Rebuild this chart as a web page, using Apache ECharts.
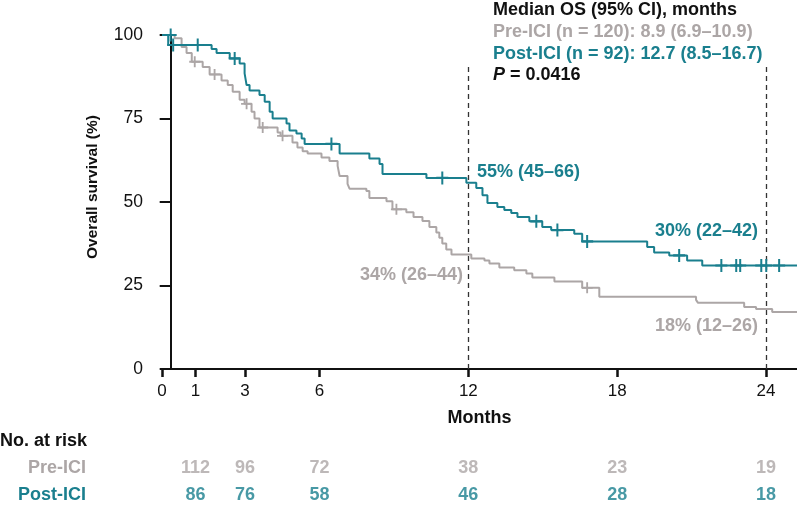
<!DOCTYPE html>
<html>
<head>
<meta charset="utf-8">
<title>Overall survival: Pre-ICI vs Post-ICI</title>
<script src="https://cdn.jsdelivr.net/npm/echarts@6.0.0/dist/echarts.min.js"></script>
<style>
  html, body { margin: 0; padding: 0; background: #fff; }
  #main { width: 797px; height: 509px; }
</style>
</head>
<body>
<div id="main"></div>
<script>
// axis range (months); the plotted origin sits a little left of 0
var X_MIN = -0.35;
var X_MAX = 25.25;
var X_TICKS = [X_MIN, 1, 3, 6, 12, 18, 24];
var X_TICK_LABELS = ['0', '1', '3', '6', '12', '18', '24'];
var Y_TICKS = [0, 25, 50, 75, 100];
var LANDMARKS = [12, 24];

// Post-ICI Kaplan-Meier steps (time, survival % after the step)
var POST_T = [X_MIN, -0.1, 1.65, 1.85, 2.38, 2.78, 2.98, 3.06, 3.18, 3.58, 3.79, 3.99, 4.11, 4.67, 4.79,
  5.07, 5.28, 5.40, 6.81, 8.01, 8.42, 8.54, 10.31, 11.92, 12.32, 12.57, 12.77, 13.17, 13.45, 13.73,
  13.98, 14.46, 14.98, 15.34, 16.27, 16.59, 19.21, 19.49, 20.10, 20.82, 21.43, X_MAX];
var POST_S = [100, 97.0, 95.8, 94.6, 93.0, 91.5, 88.5, 85.0, 83.4, 82.0, 80.0, 77.0, 75.0, 73.5, 71.4,
  70.5, 69.0, 67.4, 64.5, 63.0, 61.4, 58.4, 57.2, 55.8, 54.2, 52.0, 49.7, 48.5, 47.6, 46.7,
  45.5, 44.2, 42.5, 41.6, 40.5, 38.2, 36.5, 34.9, 34.0, 32.5, 31.0, 31.0];
var POST_CENS_T = [0.0, 0.1, 1.09, 2.58, 6.48, 10.95, 14.74, 15.59, 16.79, 20.5, 22.2, 22.8, 22.96, 23.81, 24.01, 24.53];
var POST_CENS_S = [100, 97.0, 97.0, 93.0, 67.4, 57.2, 44.2, 41.6, 38.2, 34.0, 31.0, 31.0, 31.0, 31.0, 31.0, 31.0];

// Pre-ICI Kaplan-Meier steps
var PRE_T = [X_MIN, 0.16, 0.44, 0.64, 0.85, 1.29, 1.57, 2.05, 2.30, 2.50, 2.78, 2.98, 3.26, 3.38, 3.58,
  4.31, 4.43, 4.91, 5.11, 5.32, 5.52, 6.08, 6.40, 6.73, 6.81, 7.13, 7.21, 7.89, 8.01, 8.70,
  8.94, 9.50, 9.79, 10.15, 10.43, 10.71, 10.83, 10.95, 11.11, 11.32, 12.12, 12.65, 12.85, 13.25,
  13.85, 14.34, 14.58, 15.47, 16.59, 17.28, 21.18, 21.26, 23.12, 23.60, 24.25, X_MAX];
var PRE_S = [100, 99.0, 96.4, 94.6, 92.0, 90.4, 88.2, 86.4, 85.0, 83.0, 80.6, 79.4, 77.0, 75.0, 72.3,
  70.8, 69.8, 67.8, 66.3, 65.2, 64.5, 63.3, 62.3, 60.8, 57.8, 55.4, 54.0, 53.3, 51.2, 50.2,
  47.8, 46.9, 45.5, 44.3, 42.5, 40.9, 39.3, 37.6, 35.8, 34.3, 33.1, 32.5, 31.6, 30.4,
  29.6, 28.6, 27.4, 26.2, 24.3, 21.6, 20.7, 19.8, 18.6, 18.0, 17.1, 17.1];
var PRE_CENS_T = [0.97, 1.77, 3.06, 3.71, 4.51, 9.10, 16.79];
var PRE_CENS_S = [92.0, 88.2, 79.4, 72.3, 69.8, 47.8, 24.3];

// number at risk
var RISK_MONTHS = [1, 3, 6, 12, 18, 24];
var RISK_PRE = [112, 96, 72, 38, 23, 19];
var RISK_POST = [86, 76, 58, 46, 28, 18];

var TEAL = '#1a7f8e';
var GRAY = '#aca6a6';
var INK = '#111';
var FONT = '"Liberation Sans", Arial, Helvetica, sans-serif';
var PLUS = 'path://M5,0h2v5h5v2h-5v5h-2v-5h-5v-2h5z';
var BIG = 18;

function pairs(xs, ys) {
  return xs.map(function (x, i) { return [x, ys[i]]; });
}

function txt(x, y, text, color, size, align, rich) {
  return {
    type: 'text', x: x, y: y, silent: true,
    style: {
      text: text, fill: color, fontSize: size, fontWeight: 'bold', fontFamily: FONT,
      textAlign: align || 'left', align: align || 'left',
      textVerticalAlign: 'middle', verticalAlign: 'middle', rich: rich
    }
  };
}

var chart = echarts.init(document.getElementById('main'));

chart.setOption({
  animation: false,
  backgroundColor: '#fff',
  textStyle: { fontFamily: FONT },
  grid: [
    { left: 162, right: 0, top: 35, bottom: 140 },
    { left: 162, right: 0, top: 455, height: 60 }
  ],
  xAxis: [{
    type: 'value', min: X_MIN, max: X_MAX,
    name: 'Months', nameLocation: 'middle', nameGap: 40,
    nameTextStyle: { color: INK, fontSize: BIG, fontWeight: 'bold', fontFamily: FONT },
    axisLine: { lineStyle: { color: INK, width: 2 } },
    axisTick: { customValues: X_TICKS, length: 8, lineStyle: { color: INK, width: 2.5 } },
    axisLabel: {
      customValues: X_TICKS, margin: 14, color: INK, fontSize: 17, fontFamily: FONT,
      formatter: function (v) {
        var best = 0;
        X_TICKS.forEach(function (t, i) { if (Math.abs(t - v) < Math.abs(X_TICKS[best] - v)) best = i; });
        return X_TICK_LABELS[best];
      }
    },
    splitLine: { show: false }
  }, {
    gridIndex: 1, type: 'value', min: X_MIN, max: X_MAX, show: false
  }],
  yAxis: [{
    type: 'value', min: Y_TICKS[0], max: Y_TICKS[Y_TICKS.length - 1], interval: 25,
    axisLine: { show: true, lineStyle: { color: INK, width: 2 } },
    axisTick: { show: true, length: 11, lineStyle: { color: INK, width: 2 } },
    axisLabel: { margin: 19, color: INK, fontSize: 17.5, fontFamily: FONT },
    splitLine: { show: false }
  }, {
    gridIndex: 1, type: 'category', data: ['Post-ICI', 'Pre-ICI'],
    axisLine: { show: false }, axisTick: { show: false }, splitLine: { show: false },
    axisLabel: {
      margin: 76, fontSize: BIG, fontWeight: 'bold', fontFamily: FONT,
      formatter: function (v) { return v === 'Pre-ICI' ? '{pre|' + v + '}' : '{post|' + v + '}'; },
      rich: {
        pre: { color: GRAY, fontSize: BIG, fontWeight: 'bold', fontFamily: FONT },
        post: { color: TEAL, fontSize: BIG, fontWeight: 'bold', fontFamily: FONT }
      }
    }
  }],
  series: [{
    name: 'Pre-ICI', type: 'line', step: 'end', symbol: 'none',
    data: pairs(PRE_T, PRE_S),
    lineStyle: { color: GRAY, width: 2 }, z: 2
  }, {
    name: 'Post-ICI', type: 'line', step: 'end', symbol: 'none',
    data: pairs(POST_T, POST_S),
    lineStyle: { color: TEAL, width: 2 }, z: 3,
    markLine: {
      silent: true, symbol: ['none', 'none'], label: { show: false },
      lineStyle: { type: [5, 4], color: '#333', width: 1.3 },
      data: LANDMARKS.map(function (m) { return [{ coord: [m, 0] }, { coord: [m, 90.5] }]; })
    }
  }, {
    name: 'Pre-ICI censored', type: 'scatter', symbol: PLUS, symbolSize: [11, 11],
    data: pairs(PRE_CENS_T, PRE_CENS_S),
    itemStyle: { color: GRAY, opacity: 1 }, z: 4
  }, {
    name: 'Post-ICI censored', type: 'scatter', symbol: PLUS, symbolSize: [12, 13],
    data: pairs(POST_CENS_T, POST_CENS_S),
    itemStyle: { color: TEAL, opacity: 1 }, z: 5
  }, {
    name: 'At risk', type: 'scatter', xAxisIndex: 1, yAxisIndex: 1,
    symbolSize: 1, itemStyle: { color: 'rgba(0,0,0,0)' },
    data: RISK_MONTHS.map(function (m, i) { return { value: [m, 'Pre-ICI', RISK_PRE[i]], label: { color: GRAY } }; })
      .concat(RISK_MONTHS.map(function (m, i) { return { value: [m, 'Post-ICI', RISK_POST[i]], label: { color: TEAL } }; })),
    label: {
      show: true, position: 'inside', fontSize: BIG, fontWeight: 'bold', fontFamily: FONT,
      formatter: function (p) { return p.value[2]; }
    }
  }],
  graphic: [
    txt(493, 10, 'Median OS (95% CI), months', INK, BIG),
    txt(493, 32, 'Pre-ICI (n = 120): 8.9 (6.9–10.9)', GRAY, BIG),
    txt(493, 54, 'Post-ICI (n = 92): 12.7 (8.5–16.7)', TEAL, BIG),
    txt(493, 75, '{i|P} = 0.0416', INK, BIG, 'left', {
      i: { fontStyle: 'italic', fontWeight: 'bold', fontSize: BIG, fontFamily: FONT, fill: INK }
    }),
    txt(477, 172, '55% (45–66)', TEAL, BIG),
    txt(463, 275, '34% (26–44)', GRAY, BIG, 'right'),
    txt(758, 231, '30% (22–42)', TEAL, BIG, 'right'),
    txt(758, 326, '18% (12–26)', GRAY, BIG, 'right'),
    txt(0, 441, 'No. at risk', INK, BIG),
    {
      type: 'text', x: 93, y: 187, rotation: Math.PI / 2, silent: true,
      style: {
        text: 'Overall survival (%)', fill: INK, fontSize: 15.5, fontWeight: 'bold', fontFamily: FONT,
        textAlign: 'center', align: 'center', textVerticalAlign: 'middle', verticalAlign: 'middle'
      }
    }
  ]
});
</script>
</body>
</html>
